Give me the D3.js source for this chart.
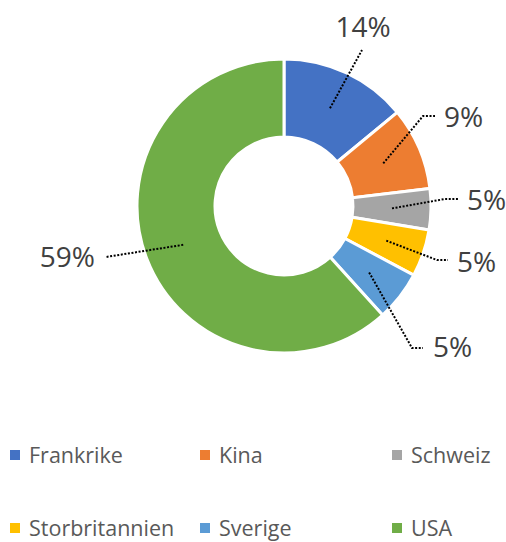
<!DOCTYPE html>
<html>
<head>
<meta charset="utf-8">
<script src="https://cdn.jsdelivr.net/npm/d3@7"></script>
<style>
  html, body { margin: 0; padding: 0; background: #fff; }
  svg { display: block; font-family: "Segoe UI", "Open Sans", "Noto Sans", sans-serif; }
</style>
</head>
<body>
<div id="chart"></div>
<script>
// Donut: share per country
const countries = ['Frankrike', 'Kina', 'Schweiz', 'Storbritannien', 'Sverige', 'USA'];
const shares = [14.0, 9.1, 4.5, 5.2, 5.5, 61.7];
const labels = ['14%', '9%', '5%', '5%', '5%', '59%'];
const colors = ['#4472C4', '#ED7D31', '#A5A5A5', '#FFC000', '#5B9BD5', '#70AD47'];

// label layout relative to chart centre: optional elbow, line end, text baseline point
const labelLayout = [
  { elbow: null,       end: [78, -156],  text: [79, -169],  anchor: 'middle' },
  { elbow: [139, -90], end: [151, -90],  text: [160, -79],  anchor: 'start' },
  { elbow: [161, -7],  end: [174, -7],   text: [183, 4],    anchor: 'start' },
  { elbow: [153, 54],  end: [164, 54],   text: [173, 66],   anchor: 'start' },
  { elbow: [128, 142], end: [139, 142],  text: [149, 151],  anchor: 'start' },
  { elbow: null,       end: [-178, 51],  text: [-189, 61],  anchor: 'end' }
];

const width = 506, height = 542;
const cx = 284, cy = 206;
const outerR = 147, innerR = 69;

const svg = d3.select('#chart').append('svg')
  .attr('width', width)
  .attr('height', height);

const data = countries.map((c, i) => ({ name: c, value: shares[i], label: labels[i], color: colors[i], layout: labelLayout[i] }));

const pie = d3.pie().value(d => d.value).sort(null);
const arc = d3.arc().innerRadius(innerR).outerRadius(outerR);
const mid = d3.arc().innerRadius((innerR + outerR) / 2).outerRadius((innerR + outerR) / 2);

const g = svg.append('g').attr('transform', `translate(${cx},${cy})`);

const arcs = pie(data);

g.selectAll('path.slice')
  .data(arcs)
  .join('path')
  .attr('class', 'slice')
  .attr('d', arc)
  .attr('fill', d => d.data.color)
  .attr('stroke', '#fff')
  .attr('stroke-width', 3);

// dotted leader lines from slice centroid to label
g.selectAll('polyline.leader')
  .data(arcs)
  .join('polyline')
  .attr('class', 'leader')
  .attr('points', d => {
    const l = d.data.layout;
    const pts = [mid.centroid(d)];
    if (l.elbow) pts.push(l.elbow);
    pts.push(l.end);
    return pts.map(q => q.join(',')).join(' ');
  })
  .attr('fill', 'none')
  .attr('stroke', '#000')
  .attr('stroke-width', 2)
  .attr('stroke-dasharray', '2,1.6');

g.selectAll('text.pct')
  .data(arcs)
  .join('text')
  .attr('class', 'pct')
  .attr('x', d => d.data.layout.text[0])
  .attr('y', d => d.data.layout.text[1])
  .attr('text-anchor', d => d.data.layout.anchor)
  .attr('font-size', 28)
  .attr('fill', '#404040')
  .text(d => d.data.label);

// legend, 3 columns x 2 rows
const colX = [10, 200, 392];
const rowY = [455, 528];
const legend = svg.selectAll('g.legend')
  .data(data)
  .join('g')
  .attr('class', 'legend')
  .attr('transform', (d, i) => `translate(${colX[i % 3]},${rowY[Math.floor(i / 3)]})`);

legend.append('rect')
  .attr('x', 0)
  .attr('y', -5)
  .attr('width', 10)
  .attr('height', 10)
  .attr('fill', d => d.color);

legend.append('text')
  .attr('x', 19)
  .attr('y', 8)
  .attr('font-size', 21.5)
  .attr('fill', '#595959')
  .text(d => d.name);
</script>
</body>
</html>
